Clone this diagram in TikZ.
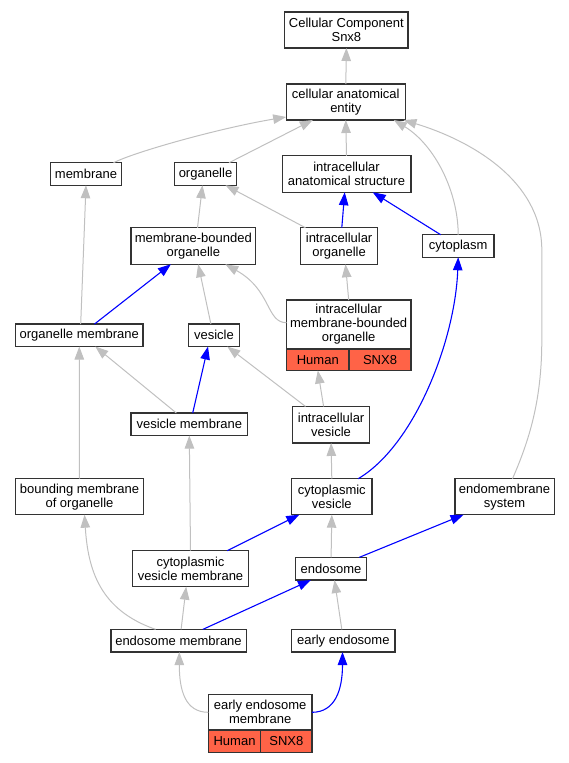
\documentclass[tikz,border=0pt]{standalone}
\usepackage{fontspec}
\setmainfont{Liberation Sans}
\usetikzlibrary{arrows.meta}
\definecolor{edgegray}{HTML}{C0C0C0}
\definecolor{bordergray}{HTML}{333333}
\definecolor{tomatoc}{HTML}{FF6347}
\begin{document}
\begin{tikzpicture}[x=1pt,y=-1pt,
 box/.style={draw=bordergray, line width=1.3pt, fill=white, align=center, inner sep=0pt, outer sep=0pt, font=\fontsize{13}{14}\selectfont},
 redcell/.style={box, fill=tomatoc},
 isa/.style={draw=edgegray, line width=1pt, -{Triangle[length=13pt,width=9.5pt]}},
 partof/.style={draw=blue, line width=1.1pt, -{Triangle[length=13pt,width=9.5pt]}}]
\useasboundingbox (0,0) rectangle (568,763);

% nodes
\node[box, minimum width=123.3, minimum height=36] (cc) at (346.4,30) {Cellular Component\\Snx8};
\node[box, minimum width=119.3, minimum height=36] (cae) at (345.8,102) {cellular anatomical\\entity};
\node[box, minimum width=71, minimum height=22.5] (mem) at (86,174) {membrane};
\node[box, minimum width=62.5, minimum height=22.5] (org) at (205.5,174) {organelle};
\node[box, minimum width=128.7, minimum height=36.5] (ias) at (346.5,174) {intracellular\\anatomical structure};
\node[box, minimum width=124.7, minimum height=36.5] (mbo) at (193.3,246) {membrane-bounded\\organelle};
\node[box, minimum width=76.8, minimum height=36.5] (io) at (339.1,246) {intracellular\\organelle};
\node[box, minimum width=71.3, minimum height=22.5] (cyt) at (458.2,246) {cytoplasm};
\node[box, minimum width=127.3, minimum height=22.5] (om) at (79.3,335.3) {organelle membrane};
\node[box, minimum width=51.2, minimum height=22.5] (ves) at (214,335.3) {vesicle};
\node[box, minimum width=124.4, minimum height=49] (imbo) at (348.7,324.5) {intracellular\\membrane-bounded\\organelle};
\node[redcell, minimum width=62.6, minimum height=21.5] (imboH) at (317.8,359.75) {Human};
\node[redcell, minimum width=61.8, minimum height=21.5] (imboS) at (380,359.75) {SNX8};
\node[box, minimum width=116.7, minimum height=22.5] (vm) at (189.3,424.3) {vesicle membrane};
\node[box, minimum width=76.8, minimum height=36.5] (iv) at (331.1,424.7) {intracellular\\vesicle};
\node[box, minimum width=127.7, minimum height=36] (bmo) at (79.5,496.7) {bounding membrane\\of organelle};
\node[box, minimum width=80.4, minimum height=36] (cv) at (331.8,496.7) {cytoplasmic\\vesicle};
\node[box, minimum width=99.3, minimum height=36] (ems) at (504.5,496.7) {endomembrane\\system};
\node[box, minimum width=116.4, minimum height=36] (cvm) at (190.5,568.7) {cytoplasmic\\vesicle membrane};
\node[box, minimum width=70.9, minimum height=22.7] (endo) at (331.1,568.7) {endosome};
\node[box, minimum width=135.3, minimum height=22.7] (emb) at (178.5,640.7) {endosome membrane};
\node[box, minimum width=103.3, minimum height=22.7] (ee) at (343.3,640.7) {early endosome};
\node[box, minimum width=103.6, minimum height=35.3] (eem) at (260.2,712.3) {early endosome\\membrane};
\node[redcell, minimum width=52.3, minimum height=22.3] (eemH) at (234.55,741.2) {Human};
\node[redcell, minimum width=51.3, minimum height=22.3] (eemS) at (286.35,741.2) {SNX8};

\coordinate (emsA) at (541.8,340);
\coordinate (emsB) at (541.8,250);

% edges
\draw[isa] (cae.north) -- (cc.south);
\draw[isa] ([shift={(27.5,0)}]mem.north) .. controls +(21.5,-11) and +(-66,11) .. ([shift={(0,-3)}]cae.south west);
\draw[isa] ([shift={(23.5,0)}]org.north) -- ([shift={(-33,0)}]cae.south);
\draw[isa] (ias.north) -- (cae.south);
\draw[isa] (cyt.north) .. controls +(0,-43) and +(41,25) .. ([shift={(48,0)}]cae.south);
\draw[isa] ([shift={(8,0)}]ems.north) .. controls +(17,-39) and +(0,60) .. (emsA) -- (emsB) .. controls +(0,-70) and +(66,20) .. ([shift={(-2,0)}]cae.south east);
\draw[isa] ([shift={(-33.6,0)}]io.north) -- ([shift={(20,0)}]org.south);
\draw[partof] ([shift={(2.7,0)}]io.north) -- ([shift={(-1.8,0)}]ias.south);
\draw[partof] ([shift={(-17.5,0)}]cyt.north) -- ([shift={(26.2,0)}]ias.south);
\draw[isa] ([shift={(4.2,0)}]mbo.north) -- ([shift={(-3,0)}]org.south);
\draw[isa] ([shift={(1.4,0)}]om.north) -- (mem.south);
\draw[partof] ([shift={(15.2,0)}]om.north) -- ([shift={(-22.4,0)}]mbo.south);
\draw[isa] ([shift={(-3.1,0)}]ves.north) -- ([shift={(4.9,0)}]mbo.south);
\draw[isa] ([shift={(0,-1.8)}]imbo.west) .. controls +(-20.5,0) and +(46.5,26) .. ([shift={(32,0)}]mbo.south);
\draw[isa] (imbo.north) -- ([shift={(6.4,0)}]io.south);
\draw[isa] ([shift={(-12.9,0)}]vm.north) -- ([shift={(16,0)}]om.south);
\draw[partof] ([shift={(3.4,0)}]vm.north) -- ([shift={(-6,0)}]ves.south);
\draw[isa] ([shift={(-25.6,0)}]iv.north) -- ([shift={(13.3,0)}]ves.south);
\draw[isa] ([shift={(-7.5,0)}]iv.north) -- (imboH.south);
\draw[isa] (bmo.north) -- (om.south);
\draw[isa] (cv.north) -- (iv.south);
\draw[partof] ([shift={(26.4,0)}]cv.north) .. controls +(56.8,-33.7) and +(-3,82.7) .. (cyt.south);
\draw[isa] (cvm.north) -- (vm.south);
\draw[partof] ([shift={(36.8,0)}]cvm.north) -- ([shift={(-32.5,0)}]cv.south);
\draw[isa] (endo.north) -- (cv.south);
\draw[partof] ([shift={(28.2,0)}]endo.north) -- ([shift={(-40.9,0)}]ems.south);
\draw[isa] ([shift={(-22.9,0)}]emb.north) .. controls +(-55.6,-19.3) and +(3.5,55.3) .. ([shift={(5,0)}]bmo.south);
\draw[isa] ([shift={(2.6,0)}]emb.north) -- ([shift={(-4.3,0)}]cvm.south);
\draw[partof] ([shift={(24.4,0)}]emb.north) -- ([shift={(-20.2,0)}]endo.south);
\draw[isa] ([shift={(-1.5,0)}]ee.north) -- ([shift={(3.4,0)}]endo.south);
\draw[isa] (eem.west) .. controls +(-23.4,0) and +(0,38) .. ([shift={(0.8,0)}]emb.south);
\draw[partof] (eem.east) .. controls +(23,0) and +(0,38) .. ([shift={(-0.8,0)}]ee.south);
\end{tikzpicture}
\end{document}
